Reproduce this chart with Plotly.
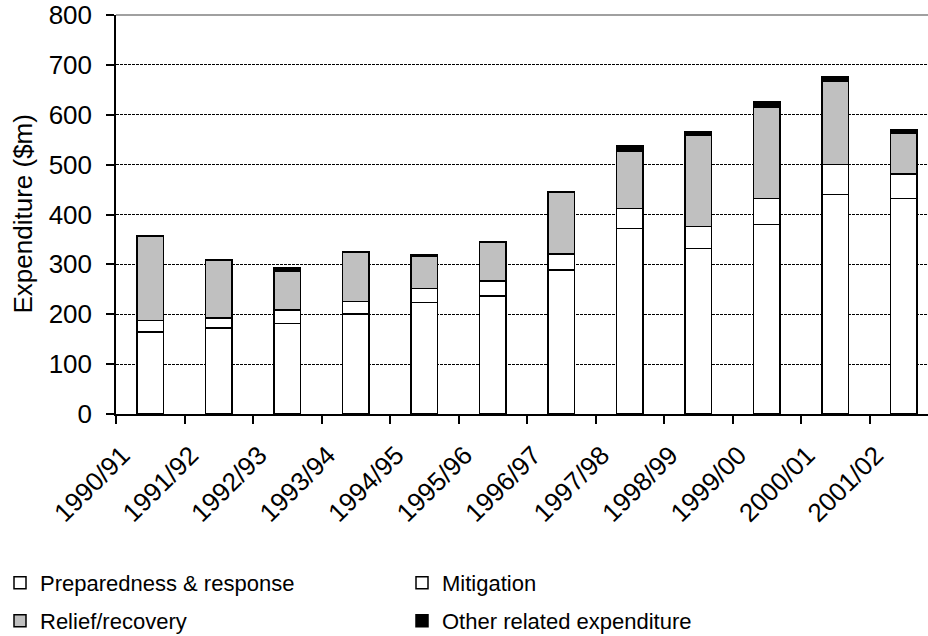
import plotly.graph_objects as go

years = ["1990/91", "1991/92", "1992/93", "1993/94", "1994/95", "1995/96",
         "1996/97", "1997/98", "1998/99", "1999/00", "2000/01", "2001/02"]
preparedness = [164, 172, 181, 201, 224, 237, 289, 372, 332, 380, 440, 432]
mitigation = [23, 20, 28, 25, 28, 30, 32, 40, 44, 52, 60, 49]
relief = [170, 117, 78, 99, 64, 78, 124, 115, 183, 184, 167, 82]
other = [0, 0, 6, 0, 4, 0, 0, 10, 6, 10, 10, 6]
y_title = "Expenditure ($m)"

series = [
    ("Preparedness & response", preparedness, "white", "legend"),
    ("Mitigation", mitigation, "white", "legend2"),
    ("Relief/recovery", relief, "#c0c0c0", "legend3"),
    ("Other related expenditure", other, "black", "legend4"),
]

FONT = "Liberation Sans, Arial, sans-serif"
W, H = 928, 636
ML, MT, MB = 116, 15, 222
PLOT_W = W - ML

fig = go.Figure()
for name, vals, col, leg in series:
    fig.add_trace(go.Bar(
        x=years, y=vals, name=name, width=0.38, legend=leg,
        marker=dict(color=col, line=dict(color="black", width=1.5)),
    ))

legend_common = dict(
    xref="container", yref="container",
    xanchor="left", yanchor="middle",
    font=dict(size=22, family=FONT, color="black"),
    itemwidth=30, bgcolor="rgba(0,0,0,0)",
)
col2 = (416 - 14) / W
row1 = 1 - 583 / H
row2 = 1 - 621 / H

fig.update_layout(
    width=W, height=H,
    barmode="stack",
    plot_bgcolor="white", paper_bgcolor="white",
    margin=dict(l=ML, r=0, t=MT, b=MB, autoexpand=False),
    font=dict(family=FONT, color="black", size=26),
    showlegend=True,
    legend=dict(legend_common, x=0, y=row1),
    legend2=dict(legend_common, x=col2, y=row1),
    legend3=dict(legend_common, x=0, y=row2),
    legend4=dict(legend_common, x=col2, y=row2),
)

fig.update_xaxes(
    type="category", range=[-0.5, 11.354], automargin=False,
    tickson="boundaries", ticks="outside", ticklen=8,
    tickcolor="black", tickwidth=1.5,
    showline=True, linecolor="black", linewidth=1.5,
    tickangle=-45, tickfont=dict(size=26, family=FONT, color="black"),
    ticklabelshift=-28, ticklabelstandoff=14,
    showgrid=False,
)
fig.update_yaxes(
    range=[0, 800], dtick=100, tick0=0, automargin=False,
    ticks="outside", ticklen=8, tickcolor="black", tickwidth=1.5,
    showline=True, linecolor="black", linewidth=1.5,
    showgrid=True, gridcolor="black", gridwidth=1, griddash="3px,1px",
    zeroline=False, ticklabelstandoff=9, ticklabeloverflow="allow",
    tickfont=dict(size=26, family=FONT, color="black"),
)

fig.add_annotation(
    text=y_title, xref="paper", yref="paper",
    x=(22 - ML) / PLOT_W, y=0.5, xanchor="center", yanchor="middle",
    textangle=-90, showarrow=False,
    font=dict(size=26, family=FONT, color="black"),
)

fig.add_shape(type="line", xref="paper", yref="paper", x0=0, x1=1, y0=1, y1=1,
              line=dict(color="#a0a0a0", width=2))

fig.write_html("out.html", config={"displayModeBar": False},
               post_script="document.body.style.margin='0';")
